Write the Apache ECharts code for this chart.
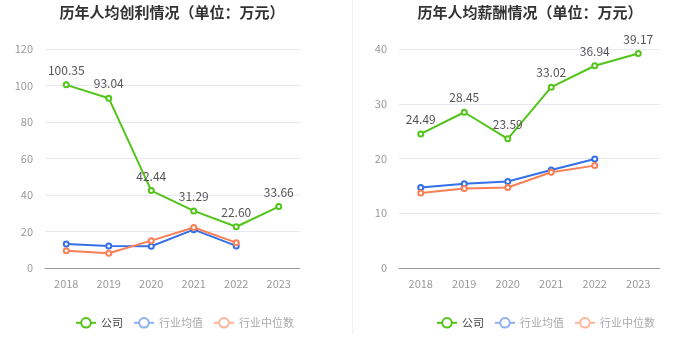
<!DOCTYPE html>
<html>
<head>
<meta charset="utf-8">
<script src="https://cdn.jsdelivr.net/npm/echarts@6/dist/echarts.min.js"></script>
<style>
html,body{margin:0;padding:0;background:#fff;}
#main{width:700px;height:360px;}
</style>
</head>
<body>
<div id="main"></div>
<script>
const years = ['2018','2019','2020','2021','2022','2023'];
const titleLeft = '历年人均创利情况（单位：万元）';
const titleRight = '历年人均薪酬情况（单位：万元）';
const seriesNames = ['公司','行业均值','行业中位数'];
// 人均创利
const profitCompany = [100.35, 93.04, 42.44, 31.29, 22.60, 33.66];
const profitMean = [13.2, 12.1, 11.9, 21.0, 12.1, null];
const profitMedian = [9.5, 8.1, 15.0, 22.2, 13.9, null];
// 人均薪酬
const salaryCompany = [24.49, 28.45, 23.59, 33.02, 36.94, 39.17];
const salaryMean = [14.7, 15.4, 15.8, 17.9, 19.9, null];
const salaryMedian = [13.7, 14.5, 14.7, 17.5, 18.7, null];

const colors = ['#52c41a', '#3470e8', '#fa7f55'];
const legendIconColors = ['#52c41a', '#8fb0f2', '#ffb49a'];
const legendTextColors = ['#444', '#aaa', '#aaa'];
const FONT = '"Noto Sans CJK SC", "Noto Sans", sans-serif';

const chart = echarts.init(document.getElementById('main'));

function mkSeries(name, data, idx, gridIdx, showLabel) {
  return {
    name: name,
    type: 'line',
    xAxisIndex: gridIdx,
    yAxisIndex: gridIdx,
    data: data,
    symbol: 'emptyCircle',
    symbolSize: 5,
    connectNulls: false,
    lineStyle: {width: 2, color: colors[idx]},
    itemStyle: {color: colors[idx], borderWidth: 1.5},
    label: showLabel ? {
      show: true, position: 'top', color: '#555', fontSize: 12, fontFamily: FONT,
      formatter: p => p.value.toFixed(2)
    } : {show: false},
    z: showLabel ? 3 : 2
  };
}

function legendData() {
  return seriesNames.map((n, i) => ({
    name: n,
    itemStyle: {color: legendIconColors[i], borderColor: legendIconColors[i], borderWidth: 2},
    lineStyle: {color: legendIconColors[i], width: 2},
    textStyle: {color: legendTextColors[i]}
  }));
}

function xAxis(gridIdx) {
  return {
    type: 'category', gridIndex: gridIdx, data: years, boundaryGap: true,
    axisLine: {lineStyle: {color: '#999'}},
    axisTick: {show: false},
    axisLabel: {color: '#999', fontSize: 11, fontFamily: FONT, margin: 10}
  };
}
function yAxis(gridIdx, max, interval) {
  return {
    type: 'value', gridIndex: gridIdx, min: 0, max: max, interval: interval,
    axisLine: {show: false}, axisTick: {show: false},
    axisLabel: {color: '#999', fontSize: 11, fontFamily: FONT, margin: 12},
    splitLine: {lineStyle: {color: '#e6e9f4'}}
  };
}

chart.setOption({
  animation: false,
  textStyle: {fontFamily: FONT},
  title: [
    {text: titleLeft, left: 167, top: 0, textAlign: 'center',
     textStyle: {fontSize: 15, fontWeight: 'bold', color: '#333', fontFamily: FONT}},
    {text: titleRight, left: 525, top: 0, textAlign: 'center',
     textStyle: {fontSize: 15, fontWeight: 'bold', color: '#333', fontFamily: FONT}}
  ],
  legend: [
    {data: legendData(), left: 70, top: 312, itemWidth: 20, itemHeight: 12, itemGap: 10,
     textStyle: {fontSize: 11, fontFamily: FONT}, selectedMode: false},
    {data: legendData(), left: 431, top: 312, itemWidth: 20, itemHeight: 12, itemGap: 10,
     textStyle: {fontSize: 11, fontFamily: FONT}, selectedMode: false}
  ],
  graphic: [
    {type: 'line', shape: {x1: 352.5, y1: 0, x2: 352.5, y2: 334}, style: {stroke: '#f0f0f0', lineWidth: 1}}
  ],
  grid: [
    {left: 45, right: 400, top: 49, bottom: 92},
    {left: 399, right: 40, top: 49, bottom: 92}
  ],
  xAxis: [xAxis(0), xAxis(1)],
  yAxis: [yAxis(0, 120, 20), yAxis(1, 40, 10)],
  series: [
    mkSeries('公司', profitCompany, 0, 0, true),
    mkSeries('行业均值', profitMean, 1, 0, false),
    mkSeries('行业中位数', profitMedian, 2, 0, false),
    mkSeries('公司', salaryCompany, 0, 1, true),
    mkSeries('行业均值', salaryMean, 1, 1, false),
    mkSeries('行业中位数', salaryMedian, 2, 1, false)
  ]
});
</script>
</body>
</html>
